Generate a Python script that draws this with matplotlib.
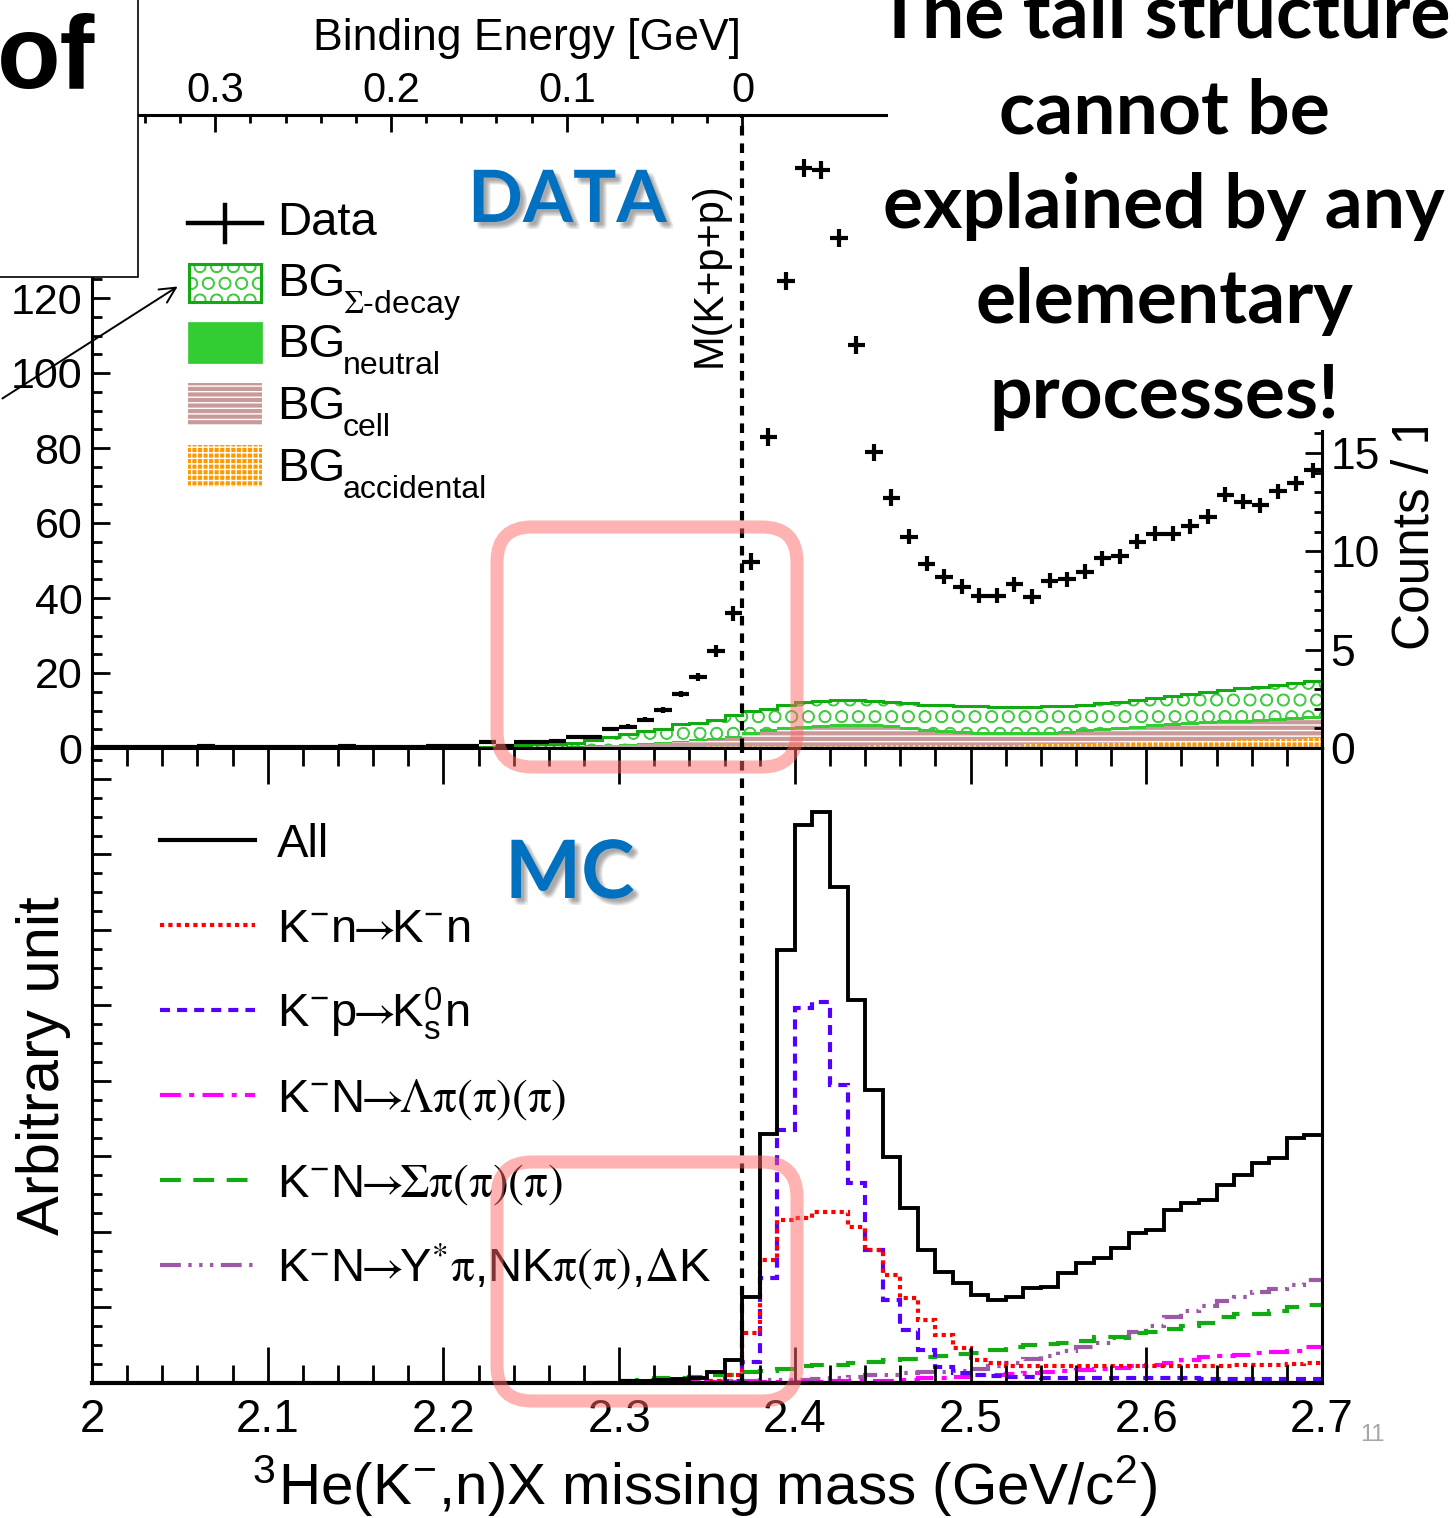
import numpy as np
import matplotlib
matplotlib.use("Agg")
import matplotlib.pyplot as plt
import matplotlib.patheffects as pe
from matplotlib.patches import Rectangle, FancyBboxPatch, FancyArrowPatch
from matplotlib.lines import Line2D
from matplotlib.transforms import IdentityTransform
from matplotlib.ticker import FixedLocator, MultipleLocator, FuncFormatter

plt.rcParams['font.family'] = ['Liberation Sans', 'DejaVu Sans']
plt.rcParams['mathtext.fontset'] = 'stix'
plt.rcParams['hatch.linewidth'] = 1.0

# 像素尺寸
W, H = 1456, 1518
DPI = 100

# K + p + p 閾值 (GeV/c^2)
m_threshold = 2.3702

# ---- DATA：缺失質量分佈（每 10 MeV 一格，2.0 - 2.7）----
data_edges = np.round(np.linspace(2.0, 2.7, 71), 3)
data_counts = [0.3, 0.2, 0.4, 0.3, 0.2, 0.3, 0.6, 0.3, 0.2, 0.3,
               0.4, 0.3, 0.2, 0.3, 0.5, 0.3, 0.4, 0.3, 0.3, 0.5,
               0.5, 0.5, 1.5, 0.6, 1.5, 1.5, 2.0, 2.9, 2.9, 5.0,
               5.7, 7.6, 10.1, 14.4, 19.0, 25.9, 35.9, 49.7, 82.9, 124.5,
               154.7, 154.1, 136.0, 107.5, 78.9, 66.8, 56.4, 49.1, 45.7, 43.0,
               40.6, 40.6, 43.7, 40.4, 44.6, 45.0, 47.0, 50.6, 51.2, 55.0,
               57.2, 57.2, 59.2, 61.7, 67.5, 65.7, 64.8, 68.5, 70.6, 74.1]
data_err = [0.4, 0.4, 0.4, 0.4, 0.4, 0.4, 0.4, 0.4, 0.4, 0.4,
            0.4, 0.4, 0.4, 0.4, 0.4, 0.4, 0.4, 0.4, 0.4, 0.4,
            0.4, 0.4, 0.5, 0.4, 0.5, 0.5, 0.5, 0.5, 0.5, 0.5,
            0.6, 0.7, 0.8, 0.9, 1.1, 1.6, 2.0, 2.3, 2.4, 2.4,
            2.4, 2.4, 2.4, 2.4, 2.3, 2.2, 2.1, 2.0, 2.0, 2.0,
            2.0, 2.0, 2.0, 2.0, 2.0, 2.0, 2.0, 2.0, 2.0, 2.0,
            2.0, 2.0, 2.0, 2.0, 2.0, 2.0, 2.0, 2.0, 2.0, 2.0]

# ---- 背景成分（2.2 - 2.7）----
bg_edges = np.round(np.linspace(2.2, 2.7, 51), 3)
bg_accidental = [0.0, 0.0, 0.05, 0.05, 0.1, 0.1, 0.15, 0.2, 0.2, 0.25,
                 0.3, 0.3, 0.35, 0.4, 0.4, 0.45, 0.5, 0.5, 0.55, 0.55,
                 0.6, 0.6, 0.65, 0.65, 0.7, 0.7, 0.75, 0.75, 0.8, 0.8,
                 0.85, 0.9, 0.9, 0.95, 1.0, 1.1, 1.2, 1.3, 1.4, 1.5,
                 1.6, 1.7, 1.8, 1.9, 2.0, 2.1, 2.2, 2.3, 2.5, 2.6]
bg_cell = [0.0, 0.05, 0.05, 0.05, 0.05, 0.15, 0.15, 0.2, 0.35, 0.45,
           0.55, 0.8, 1.0, 1.2, 1.5, 1.8, 2.2, 3.1, 3.65, 4.15,
           4.5, 4.8, 4.85, 4.95, 4.9, 4.7, 4.05, 3.65, 3.2, 2.9,
           2.75, 2.6, 2.5, 2.45, 2.5, 2.7, 3.0, 3.2, 3.5, 3.7,
           3.9, 4.1, 4.3, 4.4, 4.6, 4.7, 4.8, 4.9, 4.9, 5.1]
bg_neutral = [0.0, 0.0, 0.0, 0.0, 0.05, 0.05, 0.1, 0.1, 0.15, 0.2,
              0.25, 0.3, 0.35, 0.4, 0.5, 0.55, 0.6, 0.8, 0.8, 0.8,
              0.8, 0.8, 0.8, 0.8, 0.8, 0.8, 0.8, 0.8, 0.8, 0.8,
              0.8, 0.8, 0.8, 0.8, 0.8, 0.8, 0.8, 0.8, 0.8, 0.8,
              0.8, 0.8, 0.8, 0.8, 0.8, 0.8, 0.8, 0.8, 0.85, 0.9]
bg_sigma = [0.2, 0.25, 0.3, 0.4, 0.5, 0.7, 0.8, 0.9, 1.5, 2.1,
            2.6, 3.2, 3.5, 4.3, 4.4, 4.8, 5.4, 5.5, 5.3, 5.9,
            6.4, 6.4, 6.5, 6.4, 6.2, 6.1, 6.3, 6.4, 6.6, 6.7,
            6.7, 6.7, 6.8, 6.8, 6.8, 6.7, 6.6, 6.7, 6.6, 6.9,
            7.1, 7.4, 7.6, 7.9, 8.1, 8.3, 8.6, 8.9, 9.2, 9.4]

# ---- MC 模擬（2.3 - 2.7，任意單位）----
mc_edges = np.round(np.linspace(2.3, 2.7, 41), 3)
mc_all = [0.03, 0.03, 0.04, 0.05, 0.07, 0.15, 0.30, 1.14, 3.30, 5.74,
          7.39, 7.56, 6.57, 5.07, 3.88, 2.99, 2.32, 1.76, 1.47, 1.32,
          1.17, 1.10, 1.14, 1.26, 1.27, 1.46, 1.59, 1.66, 1.79, 1.99,
          2.03, 2.29, 2.38, 2.42, 2.62, 2.75, 2.91, 2.98, 3.25, 3.28]
mc_kn = [0.0, 0.0, 0.0, 0.0, 0.0, 0.02, 0.10, 0.66, 1.63, 2.16,
         2.19, 2.26, 2.26, 2.07, 1.76, 1.43, 1.13, 0.83, 0.64, 0.46,
         0.30, 0.26, 0.22, 0.22, 0.22, 0.22, 0.22, 0.22, 0.22, 0.22,
         0.22, 0.22, 0.23, 0.23, 0.23, 0.24, 0.24, 0.24, 0.25, 0.26]
mc_kp = [0.0, 0.0, 0.0, 0.0, 0.0, 0.0, 0.02, 0.28, 1.39, 3.35,
         4.97, 5.05, 3.95, 2.65, 1.76, 1.10, 0.70, 0.44, 0.21, 0.13,
         0.10, 0.09, 0.08, 0.08, 0.07, 0.07, 0.07, 0.06, 0.06, 0.06,
         0.06, 0.06, 0.06, 0.05, 0.05, 0.05, 0.05, 0.05, 0.05, 0.05]
mc_lam = [0.01, 0.01, 0.01, 0.01, 0.01, 0.01, 0.01, 0.01, 0.01, 0.01,
          0.01, 0.01, 0.02, 0.02, 0.02, 0.02, 0.04, 0.06, 0.06, 0.08,
          0.10, 0.10, 0.12, 0.13, 0.14, 0.16, 0.17, 0.18, 0.20, 0.22,
          0.24, 0.27, 0.31, 0.35, 0.36, 0.37, 0.40, 0.41, 0.42, 0.48]
mc_sig = [0.02, 0.04, 0.06, 0.06, 0.08, 0.10, 0.10, 0.14, 0.16, 0.18,
          0.23, 0.24, 0.24, 0.27, 0.28, 0.31, 0.32, 0.35, 0.36, 0.39,
          0.40, 0.44, 0.48, 0.50, 0.51, 0.53, 0.56, 0.61, 0.61, 0.66,
          0.68, 0.72, 0.76, 0.80, 0.88, 0.92, 0.91, 0.96, 1.00, 1.03]
mc_ystar = [0.02, 0.02, 0.02, 0.02, 0.03, 0.03, 0.03, 0.03, 0.04, 0.04,
            0.04, 0.05, 0.06, 0.08, 0.10, 0.11, 0.13, 0.14, 0.14, 0.16,
            0.19, 0.23, 0.27, 0.32, 0.36, 0.42, 0.48, 0.53, 0.60, 0.68,
            0.76, 0.88, 0.96, 1.02, 1.09, 1.14, 1.21, 1.25, 1.30, 1.37]

ARR = r'$\!\!\rightarrow\!\!$'
PI = r'\mathrm{\pi}'
KM = r'K$^{\mathregular{-}}$'
mc_labels = ['All',
             KM + 'n' + ARR + KM + 'n',
             KM + 'p' + ARR + r'K$^{\mathregular{0}}_{\mathregular{s}}$n',
             KM + 'N' + ARR + r'$\Lambda' + PI + '(' + PI + ')(' + PI + ')$',
             KM + 'N' + ARR + r'$\Sigma' + PI + '(' + PI + ')(' + PI + ')$',
             KM + 'N' + ARR + r'Y$^{*}' + PI + '$,NK$' + PI + '(' + PI + r')$,$\Delta$K']
mc_colors = ['black', '#ff0000', '#5500ff', '#ff00ff', '#11aa11', '#9b59a6']
mc_styles = ['-', (0, (1, 1)), (0, (2.4, 1.7)), (0, (5, 2, 1.2, 2)),
             (0, (5, 3)), (0, (5, 1.8, 0.8, 1.8, 0.8, 1.8, 0.8, 1.8))]

bg_subs = [r'$\Sigma$-decay', 'neutral', 'cell', 'accidental']

note_lines = ['The tail structure', 'cannot be', 'explained by any',
              'elementary', 'processes!']


def fx(x):
    return x / W


def fy(y):
    return 1 - y / H


def pix_rect(x0, y0, x1, y1, **kw):
    return Rectangle((x0, H - y1), x1 - x0, y1 - y0,
                     transform=IdentityTransform(), **kw)


def pix_line(xs, ys, **kw):
    return Line2D(xs, [H - v for v in ys], transform=IdentityTransform(), **kw)


def num_fmt(v, pos):
    return '%g' % round(v, 2)


fig = plt.figure(figsize=(W / DPI, H / DPI), dpi=DPI)
ax_top = fig.add_axes([fx(92), fy(748), (1322 - 92) / W, (748 - 115) / H])
ax_mc = fig.add_axes([fx(92), fy(1383), (1322 - 92) / W, (1383 - 748) / H])

# ================= 上圖：DATA =================
ax_top.set_xlim(2.0, 2.7)
ax_top.set_ylim(0, 168.8)

acc_top = np.array(bg_accidental)
cell_top = acc_top + np.array(bg_cell)
neut_top = cell_top + np.array(bg_neutral)
sig_top = neut_top + np.array(bg_sigma)

ax_top.stairs(acc_top, bg_edges, baseline=0, fill=True, facecolor='#ff9900',
              edgecolor='white', hatch='+++', linewidth=0, zorder=2)
ax_top.stairs(cell_top, bg_edges, baseline=acc_top, fill=True, facecolor='#c99a9a',
              edgecolor='white', hatch='---', linewidth=0, zorder=2)
ax_top.stairs(neut_top, bg_edges, baseline=cell_top, fill=True, facecolor='#33cc33',
              edgecolor='#33cc33', linewidth=0, zorder=2)
ax_top.stairs(sig_top, bg_edges, baseline=neut_top, fill=True, facecolor='white',
              edgecolor='#44cc44', hatch='O', linewidth=0, zorder=2)
ax_top.stairs(sig_top, bg_edges, baseline=None, color='#11aa11', linewidth=2.2, zorder=3)

data_centers = 0.5 * (data_edges[:-1] + data_edges[1:])
ax_top.errorbar(data_centers, data_counts, xerr=0.005, yerr=data_err, fmt='none',
                ecolor='black', elinewidth=3.0, capsize=0, zorder=5)

ax_top.axvline(m_threshold, color='black', lw=3, ls=(0, (2.3, 1.9)), zorder=6)

ax_top.yaxis.set_major_locator(FixedLocator(np.arange(0, 121, 20)))
ax_top.yaxis.set_minor_locator(FixedLocator(np.arange(0, 126, 5)))
ax_top.tick_params(axis='y', which='major', direction='in', length=13, width=2,
                   labelsize=31, pad=7)
ax_top.tick_params(axis='y', which='minor', direction='in', length=7, width=2)
ax_top.tick_params(axis='x', which='both', bottom=False, labelbottom=False)
ax_top.spines['right'].set_visible(False)
ax_top.spines['top'].set_visible(False)
ax_top.spines['left'].set_linewidth(2.2)
ax_top.spines['bottom'].set_linewidth(2.4)

# 右側 Counts 軸
ax_r = ax_top.twinx()
ax_r.set_ylim(0, 633 / 19.67)
ax_r.yaxis.set_major_locator(FixedLocator([0, 5, 10, 15]))
ax_r.yaxis.set_minor_locator(FixedLocator(np.arange(0, 17, 1)))
ax_r.tick_params(axis='y', which='major', direction='in', length=12, width=2,
                 labelsize=32, pad=6)
ax_r.tick_params(axis='y', which='minor', direction='in', length=6, width=2)
for s in ('top', 'left', 'bottom'):
    ax_r.spines[s].set_visible(False)
ax_r.spines['right'].set_linewidth(2.2)
ax_r.spines['right'].set_bounds(0, 16.1)

# 上方 Binding Energy 軸
sec = ax_top.secondary_xaxis('top', functions=(lambda m: m_threshold - m,
                                               lambda b: m_threshold - b))
sec.xaxis.set_major_locator(FixedLocator([0.3, 0.2, 0.1, 0.0]))
sec.xaxis.set_minor_locator(FixedLocator(np.arange(0, 0.35, 0.02)))
sec.xaxis.set_major_formatter(FuncFormatter(num_fmt))
sec.tick_params(which='major', direction='in', length=12, width=2, labelsize=30, pad=3)
sec.tick_params(which='minor', direction='in', length=6, width=2)
sec.spines['top'].set_linewidth(2.2)

# ================= 下圖：MC =================
ax_mc.set_xlim(2.0, 2.7)
ax_mc.set_ylim(0, 8.41)
mc_series = [mc_all, mc_kn, mc_kp, mc_lam, mc_sig, mc_ystar]
for vals, col, ls in zip(mc_series[::-1], mc_colors[::-1], mc_styles[::-1]):
    ax_mc.stairs(vals, mc_edges, baseline=None, color=col, linestyle=ls,
                 linewidth=3.0 if col != 'black' else 2.8)
ax_mc.axvline(m_threshold, color='black', lw=3, ls=(0, (2.3, 1.9)), zorder=6)

ax_mc.xaxis.set_major_locator(MultipleLocator(0.1))
ax_mc.xaxis.set_minor_locator(MultipleLocator(0.02))
ax_mc.xaxis.set_major_formatter(FuncFormatter(num_fmt))
ax_mc.tick_params(axis='x', which='both', direction='in', top=True, bottom=True)
ax_mc.tick_params(axis='x', which='major', length=26, width=2, labelsize=33, pad=11)
ax_mc.tick_params(axis='x', which='minor', length=13, width=2)
ax_mc.yaxis.set_major_locator(MultipleLocator(1))
ax_mc.yaxis.set_minor_locator(MultipleLocator(0.25))
ax_mc.tick_params(axis='y', which='major', direction='in', length=14, width=2,
                  labelleft=False)
ax_mc.tick_params(axis='y', which='minor', direction='in', length=7, width=2)
for s in ax_mc.spines.values():
    s.set_linewidth(2.2)
ax_mc.spines['bottom'].set_linewidth(3)

# ---- 座標軸標題 ----
fig.text(fx(527), fy(50), 'Binding Energy [GeV]', fontsize=32, ha='center', va='baseline')
fig.text(fx(705), fy(1505),
         r'$^{\mathregular{3}}$He(K$^{\mathregular{-}}$,n)X missing mass (GeV/c$^{\mathregular{2}}$)',
         fontsize=42, ha='center', va='baseline')
fig.text(fx(44), fy(1066), 'Arbitrary unit', fontsize=43, rotation=90,
         ha='center', va='center')
fig.text(fx(1415), fy(650), 'Counts / 10 MeV', fontsize=37, rotation=90,
         ha='center', va='bottom', zorder=4)
fig.text(fx(710), fy(275), 'M(K+p+p)', fontsize=30, rotation=90,
         ha='center', va='center', zorder=4)

# ---- 上圖圖例 ----
fig.add_artist(pix_line([188, 262], [223, 223], color='black', lw=3.2, zorder=5))
fig.add_artist(pix_line([225, 225], [205, 242], color='black', lw=3.2, zorder=5))
fig.text(fx(277), fy(235), 'Data', fontsize=34, va='baseline', zorder=5)

box_rows = [(264, 302), (322, 363), (383, 425), (445, 487)]
(s0, s1), (n0, n1), (c0, c1), (a0, a1) = box_rows
fig.add_artist(pix_rect(189, s0, 261, s1, facecolor='white', edgecolor='#44cc44',
                        hatch='O', linewidth=0, zorder=5))
fig.add_artist(pix_rect(189, s0, 261, s1, fill=False, edgecolor='#11aa11',
                        linewidth=2.2, zorder=5))
fig.add_artist(pix_rect(188, n0, 262, n1, facecolor='#33cc33', edgecolor='#33cc33',
                        linewidth=0.5, zorder=5))
fig.add_artist(pix_rect(188, c0, 262, c1, facecolor='#c99a9a', edgecolor='white',
                        hatch='---', linewidth=0, zorder=5))
fig.add_artist(pix_rect(188, a0, 262, a1, facecolor='#ff9900', edgecolor='white',
                        hatch='+++', linewidth=0, zorder=5))
for sub, (r0, r1) in zip(bg_subs, box_rows):
    fig.text(fx(277), fy(r1 - 6), 'BG', fontsize=34, va='baseline', zorder=5)
    fig.text(fx(343), fy(r1 + 11), sub, fontsize=23, va='baseline', zorder=5)

# ---- MC 圖例 ----
for i, (lab, col, ls) in enumerate(zip(mc_labels, mc_colors, mc_styles)):
    ly = 840 + 85 * i
    fig.add_artist(pix_line([160, 255], [ly, ly], color=col, linestyle=ls,
                            lw=3.0, zorder=5))
    fig.text(fx(277), fy(ly + 17), lab, fontsize=34, va='baseline', zorder=5)

# ---- DATA / MC 藍字（帶陰影）----
shadow = [pe.SimplePatchShadow(offset=(dx, dy), shadow_rgbFace='#444444', alpha=0.07)
          for dx, dy in [(2, -2), (3, -3), (4, -4), (5, -5), (3, -5), (5, -3), (4, -2), (2, -4)]]
shadow.append(pe.Normal())
fig.text(fx(468), fy(222), 'DATA', fontsize=52, fontweight='bold', family='Lato',
         color='#0070c0', va='baseline', path_effects=shadow, zorder=5)
fig.text(fx(505), fy(898), 'MC', fontsize=58, fontweight='bold', family='Lato',
         color='#0070c0', va='baseline', path_effects=shadow, zorder=5)

# ---- 白色遮蓋區與右上說明文字 ----
fig.add_artist(pix_rect(888, -5, W + 5, 428, facecolor='white', edgecolor='none', zorder=10))
for line, yb in zip(note_lines, [38, 133, 228, 323, 418]):
    fig.text(fx(1164), fy(yb), line, fontsize=54, fontweight='bold', family='Lato',
             ha='center', va='baseline', zorder=11)

fig.add_artist(pix_rect(-5, -5, 138, 277, facecolor='white', edgecolor='black',
                        linewidth=1.2, zorder=10))
fig.text(fx(-3), fy(88), 'of', fontsize=75, fontweight='bold', va='baseline', zorder=11)

fig.add_artist(FancyArrowPatch((0, H - 400), (180, H - 285), transform=IdentityTransform(),
                               arrowstyle='->', mutation_scale=28, lw=1.4,
                               color='black', zorder=11))

# ---- 粉紅色提示框 ----
for y0, y1 in [(527, 767), (1162, 1401)]:
    fig.add_artist(FancyBboxPatch((497, H - y1), 300, y1 - y0,
                                  boxstyle='round,pad=0,rounding_size=35',
                                  transform=IdentityTransform(), fill=False,
                                  edgecolor=(1, 0.4, 0.4), alpha=0.5, lw=9.4, zorder=12))

fig.text(fx(1372), fy(1441), '11', fontsize=17, color='#a6a6a6', ha='center',
         va='baseline', zorder=11)

fig.savefig('out.png', dpi=DPI)
